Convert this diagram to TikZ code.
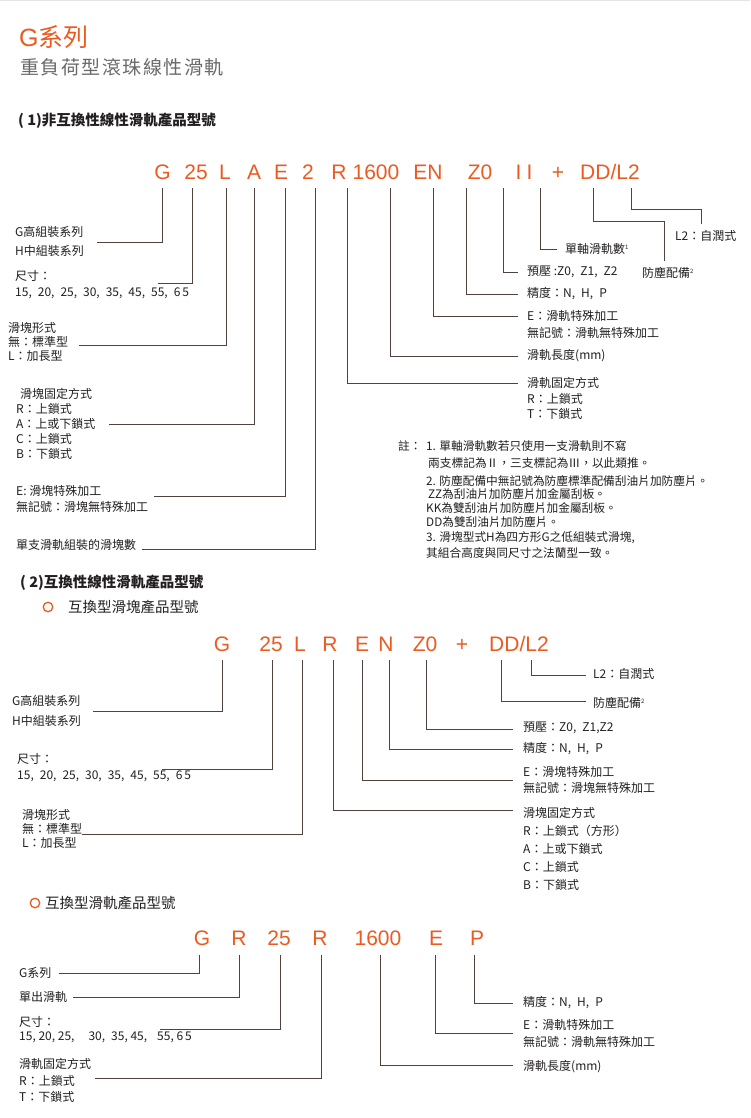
\documentclass[tikz,border=0pt]{standalone}
\usepackage{fontspec}
\setmainfont{Noto Sans CJK TC}
\newfontfamily\codefont{Liberation Sans}
\usetikzlibrary{positioning}
\definecolor{hiwin}{RGB}{236,90,32}
\definecolor{ink}{RGB}{35,31,32}
\definecolor{leadc}{RGB}{80,66,60}
\definecolor{subgray}{RGB}{105,105,105}

\begin{document}
\begin{tikzpicture}[
  x=1pt, y=-1pt,
  every node/.style={inner sep=0pt, text=ink},
  partno/.style={font=\codefont\fontsize{21}{21}\selectfont, text=hiwin, anchor=base},
  lbl/.style={font=\fontsize{12}{#1}\selectfont, align=left, anchor=west},
  lbl/.default=16,
  notetxt/.style={font=\fontsize{11.7}{14}\selectfont, anchor=west},
  sechead/.style={font=\bfseries\fontsize{14.5}{16}\selectfont, anchor=west},
  subhead/.style={font=\fontsize{14.5}{16}\selectfont, anchor=west},
  ring/.style={circle, draw=hiwin, line width=1.3pt, minimum size=9.5pt},
  leader/.style={draw=leadc, line width=0.9pt}
]
\fill[white] (0,0) rectangle (750,1118);
\useasboundingbox (0,0) rectangle (750,1118);
\draw[gray!20, line width=2pt] (0,0) -- (750,0);
\def\sizes{15,\enspace20,\enspace25,\enspace30,\enspace35,\enspace45,\enspace55,\enspace6\,5}
\def\sup#1{\textsuperscript{\fontsize{6}{6}\selectfont #1}}

% title
\node[anchor=west, font=\fontsize{25}{25}\selectfont, text=hiwin] (title) at (19,37) {{\codefont G}系列};
\node[anchor=west, font=\fontsize{19}{19}\selectfont\addfontfeature{LetterSpace=8}, text=subgray] (subtitle) at (20,67) {重負荷型滾珠線性滑軌};

% (1) non interchangeable
\node[sechead] (sec1) at (18,121) {( 1)非互換性線性滑軌產品型號};
\foreach \x/\t/\n in {162.5/G/g, 196/25/s, 225/L/l, 254/A/a, 281/E/e, 308/2/n, 339/R/r,
  376/1600/len, 428/EN/en, 480/Z0/z, 524/{I\hspace{5pt}I}/ii, 558/+/p, 610/{DD/L2}/dd}
  \node[partno] (c1\n) at (\x,180) {\t};
\foreach \n/\x/\ex/\ey in {g/162/97/242, s/192/158/283, l/226/79/345, a/254/109/424,
  e/285/154/496, n/315/142/549, r/347/518/383, len/390/518/356, en/433/518/316,
  z/466/518/294, iia/503/518/272, iib/540/557/249} {
  \coordinate (t1\n) at (\x,188);
  \coordinate (e1\n) at (\ex,\ey);
  \draw[leader] (t1\n) |- (e1\n);
}
\coordinate (t1dd) at (593,188);
\coordinate (e1dd) at (664,261);
\draw[leader] (t1dd) -- ++(0,33) -| (e1dd);
\coordinate (t1lt) at (631,188);
\coordinate (e1lt) at (701,224);
\draw[leader] (t1lt) -- ++(0,21) -| (e1lt);

\node[lbl=19] (l1g) at (15,241.5) {G高組裝系列\\H中組裝系列};
\node[lbl] (l1s) at (15,285) {尺寸：\\\sizes};
\node[lbl=14] (l1l) at (8,342) {滑塊形式\\無：標準型\\L：加長型};
\node[lbl=15] (l1a) at (16,424) {\hspace*{4pt}滑塊固定方式\\R：上鎖式\\A：上或下鎖式\\C：上鎖式\\B：下鎖式};
\node[lbl] (l1e) at (16,499) {E: 滑塊特殊加工\\無記號：滑塊無特殊加工};
\node[lbl] (l1n) at (16,545) {單支滑軌組裝的滑塊數};
\node[lbl] (r1lt) at (675,236) {L2：自潤式};
\node[lbl] (r1ii) at (565,249) {單軸滑軌數\sup{1}};
\node[lbl] (r1z) at (527,272) {預壓 :Z0,\enspace Z1,\enspace Z2};
\node[lbl] (r1dd) at (642,273) {防塵配備\sup{2}};
\node[lbl] (r1p) at (527,294) {精度：N,\enspace H,\enspace P};
\node[lbl=17] (r1en) at (527,324.5) {E：滑軌特殊加工\\無記號：滑軌無特殊加工};
\node[lbl] (r1len) at (527,356) {滑軌長度(mm)};
\node[lbl=15.5] (r1r) at (527,398.5) {滑軌固定方式\\R：上鎖式\\T：下鎖式};

% notes
\node[notetxt] (n0) at (398,446) {註：};
\foreach \y/\t [count=\i] in {446/{1. 單軸滑軌數若只使用一支滑軌則不寫},
  463/{\hspace*{2pt}兩支標記為Ⅱ，三支標記為Ⅲ，以此類推。},
  481/{2. 防塵配備中無記號為防塵標準配備刮油片加防塵片。},
  494/{\hspace*{2pt}ZZ為刮油片加防塵片加金屬刮板。},
  508/{KK為雙刮油片加防塵片加金屬刮板。},
  522/{DD為雙刮油片加防塵片。},
  538/{3. 滑塊型式H為四方形G之低組裝式滑塊,},
  553/{其組合高度與同尺寸之法蘭型一致。}}
  \node[notetxt] (n\i) at (426,\y) {\t};

% (2) interchangeable block
\node[sechead] (sec2) at (20,583) {( 2)互換性線性滑軌產品型號};
\node[ring] (o2) at (48,607) {};
\node[subhead] (sub2) at (68,607) {互換型滑塊產品型號};
\foreach \x/\t/\n in {222/G/g, 271/25/s, 300/L/l, 330/R/r, 362/E/e, 386/N/n,
  425/Z0/z, 462/+/p, 519/{DD/L2}/dd}
  \node[partno] (c2\n) at (\x,651) {\t};
\foreach \n/\x/\ex/\ey in {g/222/93/711, s/272/162/769, l/302/82/834, r/333/513/810,
  e/362/513/780, n/389/513/749, z/426/513/729, dd/501/586/701, lt/531/586/675} {
  \coordinate (t2\n) at (\x,660);
  \coordinate (e2\n) at (\ex,\ey);
  \draw[leader] (t2\n) |- (e2\n);
}
\node[lbl=20] (l2g) at (12,711) {G高組裝系列\\H中組裝系列};
\node[lbl] (l2s) at (17,768) {尺寸：\\\sizes};
\node[lbl=14] (l2l) at (22,829) {滑塊形式\\無：標準型\\L：加長型};
\node[lbl] (r2lt) at (593,674) {L2：自潤式};
\node[lbl] (r2dd) at (593,703) {防塵配備\sup{2}};
\node[lbl] (r2z) at (523,728) {預壓：Z0,\enspace Z1,Z2};
\node[lbl] (r2n) at (523,749) {精度：N,\enspace H,\enspace P};
\node[lbl] (r2e) at (523,780) {E：滑塊特殊加工\\無記號：滑塊無特殊加工};
\node[lbl=18] (r2r) at (523,849) {滑塊固定方式\\R：上鎖式（方形）\\A：上或下鎖式\\C：上鎖式\\B：下鎖式};

% interchangeable rail
\node[ring] (o3) at (35,903) {};
\node[subhead] (sub3) at (45,903) {互換型滑軌產品型號};
\foreach \x/\t/\n in {202/G/g, 239/R/r, 279/25/s, 320/R/rr, 378/1600/len, 436/E/e, 477/P/p}
  \node[partno] (c3\n) at (\x,945) {\t};
\foreach \n/\x/\ex/\ey in {g/199/59/973, r/239/73/997, s/280/160/1029, rr/321/95/1078,
  len/380/513/1065, e/435/513/1033, p/474/513/1003} {
  \coordinate (t3\n) at (\x,955);
  \coordinate (e3\n) at (\ex,\ey);
  \draw[leader] (t3\n) |- (e3\n);
}
\node[lbl] (l3g) at (19,973) {G系列};
\node[lbl] (l3r) at (19,997) {單出滑軌};
\node[lbl=14] (l3s) at (19,1030) {尺寸：\\15, 20, 25,\hspace{14pt}30,\enspace35, 45,\hspace{10pt}55, 6\,5};
\node[lbl=16.5] (l3rr) at (19,1080.5) {滑軌固定方式\\R：上鎖式\\T：下鎖式};
\node[lbl] (r3p) at (523,1003) {精度：N,\enspace H,\enspace P};
\node[lbl=17] (r3e) at (523,1033.5) {E：滑軌特殊加工\\無記號：滑軌無特殊加工};
\node[lbl] (r3len) at (523,1067) {滑軌長度(mm)};
\end{tikzpicture}
\end{document}
